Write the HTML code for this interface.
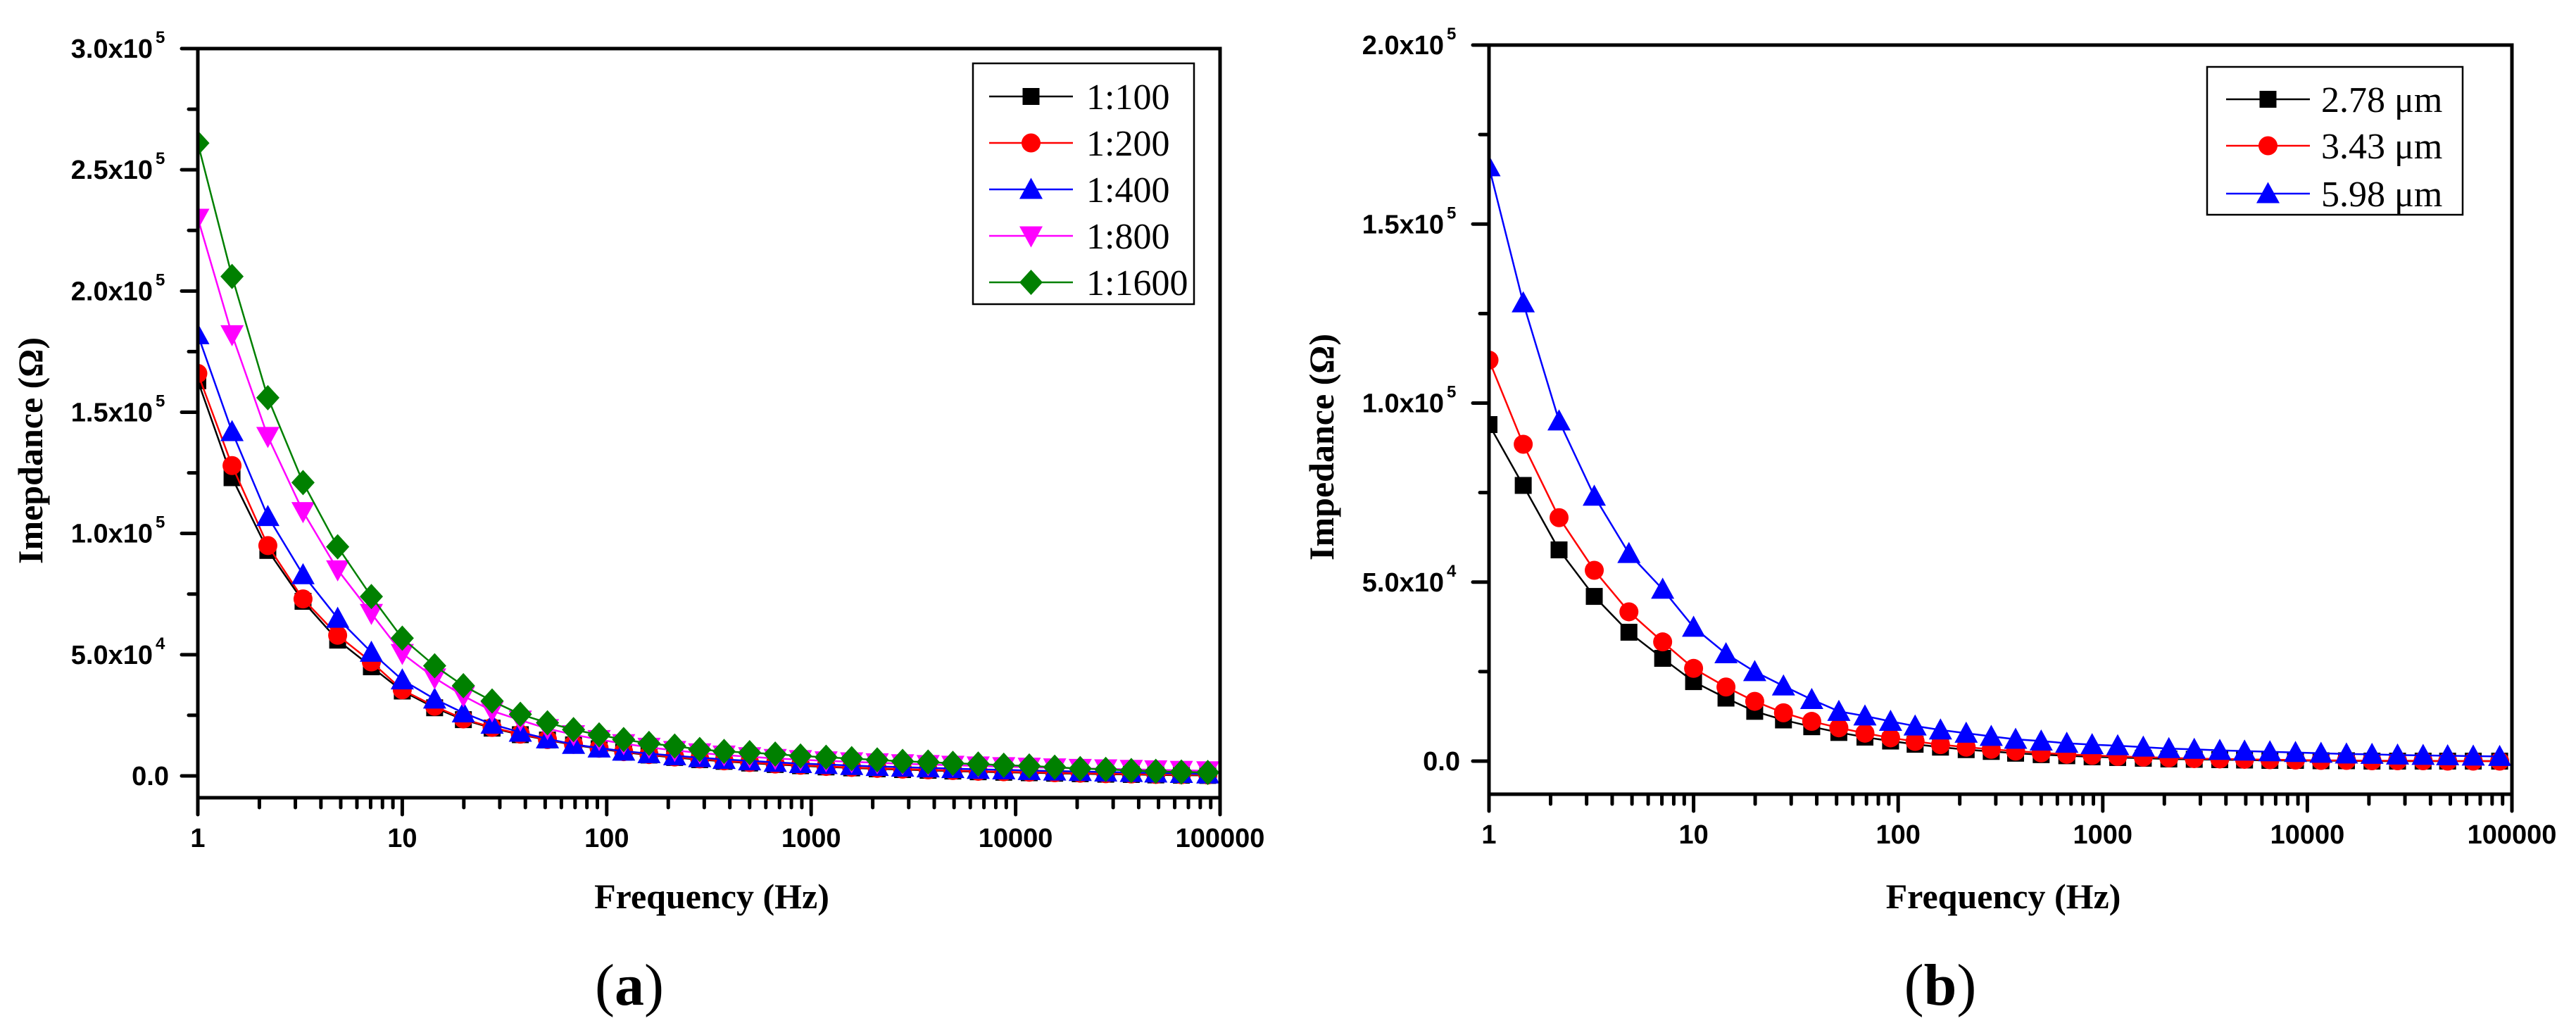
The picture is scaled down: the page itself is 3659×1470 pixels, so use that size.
<!DOCTYPE html>
<html><head><meta charset="utf-8"><style>
html,body{margin:0;padding:0;background:#fff;}
svg{display:block;}
</style></head><body>
<svg id="fig" width="3659" height="1470" viewBox="0 0 3659 1470" xmlns="http://www.w3.org/2000/svg">
<defs>
<clipPath id="clipA"><rect x="281" y="69" width="1452" height="1064"/></clipPath>
<clipPath id="clipB"><rect x="2115" y="64" width="1453" height="1064"/></clipPath>
</defs>
</svg>
<script>
// Shared frequency grid (Hz)
const freqs = [1,1.47,2.2,3.27,4.83,7.06,10,14.4,19.9,27.5,37.8,51.3,68.8,91.8,121,161,215,285,375,500,667,887,1183,1578,2104,2800,3732,4932,6561,8750,11660,15530,20700,27600,36800,48500,64700,87100];
const xTickLabels = ["1","10","100","1000","10000","100000"];
// Chart (a) series, units of 1e4 ohm
const aLabels = ["1:100","1:200","1:400","1:800","1:1600"];
const a100 = [16.3,12.3,9.3,7.2,5.6,4.5,3.5,2.81,2.32,1.97,1.7,1.48,1.28,1.12,0.98,0.86,0.76,0.67,0.6,0.53,0.47,0.42,0.37,0.33,0.29,0.26,0.23,0.2,0.17,0.15,0.13,0.11,0.09,0.07,0.06,0.04,0.03,0.02];
const a200 = [16.6,12.8,9.5,7.3,5.8,4.7,3.55,2.87,2.35,2.0,1.72,1.5,1.3,1.14,1.0,0.88,0.78,0.7,0.62,0.55,0.49,0.44,0.39,0.35,0.31,0.28,0.25,0.22,0.19,0.17,0.15,0.13,0.11,0.09,0.08,0.06,0.05,0.04];
const a400 = [18.2,14.2,10.7,8.3,6.5,5.1,3.96,3.17,2.6,2.13,1.8,1.53,1.3,1.15,1.02,0.92,0.83,0.75,0.68,0.62,0.56,0.51,0.47,0.43,0.39,0.36,0.33,0.3,0.27,0.25,0.22,0.2,0.18,0.16,0.14,0.12,0.1,0.08];
const a800 = [23.0,18.2,14.0,10.9,8.5,6.7,5.05,4.04,3.3,2.68,2.3,1.95,1.7,1.5,1.33,1.18,1.05,0.95,0.86,0.79,0.72,0.67,0.62,0.58,0.54,0.5,0.47,0.44,0.41,0.38,0.36,0.33,0.31,0.29,0.27,0.25,0.23,0.21];
const a1600 = [26.1,20.6,15.6,12.1,9.45,7.4,5.68,4.54,3.72,3.09,2.54,2.19,1.91,1.69,1.5,1.34,1.23,1.09,1.01,0.96,0.9,0.82,0.77,0.71,0.66,0.6,0.57,0.52,0.49,0.44,0.41,0.36,0.3,0.27,0.22,0.19,0.16,0.14];
const aYTicks = [0,5,10,15,20,25,30];
const aYTickLabels = [["0.0",""],["5.0x10","4"],["1.0x10","5"],["1.5x10","5"],["2.0x10","5"],["2.5x10","5"],["3.0x10","5"]];
// Chart (b) series, units of 1e4 ohm
const bLabels = ["2.78 \u03bcm","3.43 \u03bcm","5.98 \u03bcm"];
const b278 = [9.4,7.7,5.9,4.6,3.6,2.87,2.22,1.76,1.39,1.15,0.96,0.8,0.67,0.56,0.47,0.39,0.32,0.27,0.22,0.18,0.15,0.12,0.1,0.08,0.06,0.05,0.04,0.03,0.02,0.02,0.01,0.01,0,0,0,0,0,0];
const b343 = [11.2,8.85,6.8,5.33,4.17,3.33,2.59,2.07,1.67,1.35,1.11,0.93,0.78,0.65,0.55,0.46,0.39,0.33,0.28,0.23,0.19,0.16,0.13,0.11,0.09,0.07,0.06,0.05,0.04,0.03,0.02,0.02,0.01,0.01,0.01,0,0,0];
const b598 = [16.6,12.8,9.5,7.4,5.8,4.8,3.74,3.0,2.5,2.1,1.72,1.39,1.26,1.11,0.98,0.87,0.78,0.69,0.61,0.56,0.5,0.46,0.43,0.39,0.35,0.33,0.3,0.28,0.26,0.24,0.22,0.2,0.19,0.17,0.16,0.15,0.14,0.13];
const bYTicks = [0,5,10,15,20];
const bYTickLabels = [["0.0",""],["5.0x10","4"],["1.0x10","5"],["1.5x10","5"],["2.0x10","5"]];

const NS = "http://www.w3.org/2000/svg";
const svg = document.getElementById('fig');
function mk(tag, attrs, parent){
  const e = document.createElementNS(NS, tag);
  for (const k in attrs) e.setAttribute(k, attrs[k]);
  (parent||svg).appendChild(e);
  return e;
}
function marker(g, shape, cx, cy, color, s){
  let e;
  if (shape==='square') e = mk('rect',{x:cx-s*0.4,y:cy-s*0.4,width:s*0.8,height:s*0.8,fill:color},g);
  else if (shape==='circle') e = mk('circle',{cx:cx,cy:cy,r:s*0.45,fill:color},g);
  else if (shape==='up') e = mk('polygon',{points:`${cx},${cy-s*0.55} ${cx+s*0.55},${cy+s*0.45} ${cx-s*0.55},${cy+s*0.45}`,fill:color},g);
  else if (shape==='down') e = mk('polygon',{points:`${cx},${cy+s*0.55} ${cx+s*0.55},${cy-s*0.45} ${cx-s*0.55},${cy-s*0.45}`,fill:color},g);
  else e = mk('polygon',{points:`${cx},${cy-s*0.6} ${cx+s*0.55},${cy} ${cx},${cy+s*0.6} ${cx-s*0.55},${cy}`,fill:color},g);
  return e;
}
function chart(o){
  const g = mk('g',{});
  
  
  const xs = f => o.L + Math.log10(f)/5*(o.R-o.L);
  const ys = v => o.y0 - v/o.vmax*(o.y0-o.yTop);
  // series
  const sg = mk('g',{'clip-path':`url(#${o.clip})`},g);
  o.series.forEach((s,si)=>{
    const pl = mk('polyline',{points:s.vals.map((v,i)=>xs(freqs[i])+','+ys(v)).join(' '),fill:'none',stroke:s.color,'stroke-width':2.5},sg);
    
    
    s.vals.forEach((v,i)=>{
      const m = marker(sg, s.shape, xs(freqs[i]), ys(v), s.color, 30);
      
      
    });
  });
  // axes frame
  const fr = mk('rect',{x:o.L,y:o.T,width:o.R-o.L,height:o.B-o.T,fill:'none',stroke:'#000','stroke-width':5},g);
  
  
  // y ticks
  o.yTicks.forEach((t,i)=>{
    const y = ys(t);
    mk('line',{x1:o.L-23,x2:o.L,y1:y,y2:y,stroke:'#000','stroke-width':5,'stroke-linecap':'round'},g);
    if (i < o.yTicks.length-1){
      const ym = ys(t+2.5);
      mk('line',{x1:o.L-13,x2:o.L,y1:ym,y2:ym,stroke:'#000','stroke-width':5,'stroke-linecap':'round'},g);
    }
    const lab = o.yLabels[i];
    const tx = mk('text',{x: lab[1] ? o.L-64 : o.L-41, y:y+13,'text-anchor':'end','font-family':'Liberation Sans, Arial, sans-serif','font-weight':'bold','font-size':38},g);
    tx.textContent = lab[0];
    
    
    if (lab[1]){
      const sp = mk('text',{x:o.L-60,y:y-8,'font-family':'Liberation Sans, Arial, sans-serif','font-weight':'bold','font-size':24},g);
      sp.textContent = lab[1];
    }
  });
  // x ticks
  for (let d=0; d<=5; d++){
    const x = o.L + d/5*(o.R-o.L);
    mk('line',{x1:x,x2:x,y1:o.B,y2:o.B+24,stroke:'#000','stroke-width':5,'stroke-linecap':'round'},g);
    const tx = mk('text',{x:x,y:o.B+70,'text-anchor':'middle','font-family':'Liberation Sans, Arial, sans-serif','font-weight':'bold','font-size':38},g);
    tx.textContent = xTickLabels[d];
    
    
    if (d<5) for (let k=2;k<=9;k++){
      const xm = xs(Math.pow(10,d)*k);
      mk('line',{x1:xm,x2:xm,y1:o.B,y2:o.B+14,stroke:'#000','stroke-width':5,'stroke-linecap':'round'},g);
    }
  }
  // titles
  const xt = mk('text',{x:(o.L+o.R)/2+4,y:1290,'text-anchor':'middle','font-family':'Liberation Serif, Times New Roman, serif','font-weight':'bold','font-size':50},g);
  xt.textContent = 'Frequency (Hz)';
  
  
  const yt = mk('text',{x:0,y:0,'text-anchor':'middle','font-family':'Liberation Serif, Times New Roman, serif','font-weight':'bold','font-size':50,transform:`translate(${o.ytx},${o.yty}) rotate(-90)`},g);
  yt.textContent = o.ytitle;
  
  
  // caption
  const cap = mk('text',{x:o.capX,y:1427,'text-anchor':'middle','font-family':'Liberation Serif, Times New Roman, serif','font-size':84},g);
  cap.innerHTML = '(<tspan font-weight="bold">'+o.cap+'</tspan>)';
  
  
  // legend
  const lg = mk('g',{},g);
  
  
  mk('rect',{x:o.lg.x,y:o.lg.y,width:o.lg.w,height:o.lg.h,fill:'#fff',stroke:'#000','stroke-width':2.5},lg);
  o.series.forEach((s,i)=>{
    const y = o.lg.ys[i];
    const eg = mk('g',{},lg);
    
    
    mk('line',{x1:o.lg.l1,x2:o.lg.l2,y1:y,y2:y,stroke:s.color,'stroke-width':2.5},eg);
    marker(eg, s.shape, (o.lg.l1+o.lg.l2)/2, y, s.color, 30);
    const t = mk('text',{x:o.lg.tx,y:y+18,'font-family':'Liberation Serif, Times New Roman, serif','font-size':52},eg);
    t.textContent = s.label;
  });
}
chart({name:'chart-a', clip:'clipA', L:281,R:1733,T:69,B:1133,y0:1102,yTop:69,vmax:30,
  yTicks:aYTicks, yLabels:aYTickLabels, ytitle:'Imepdance (\u03a9)', ytx:60, yty:640, capX:894, cap:'a',
  series:[
    {key:'1-100',label:aLabels[0],vals:a100,color:'#000000',shape:'square'},
    {key:'1-200',label:aLabels[1],vals:a200,color:'#ff0000',shape:'circle'},
    {key:'1-400',label:aLabels[2],vals:a400,color:'#0000ff',shape:'up'},
    {key:'1-800',label:aLabels[3],vals:a800,color:'#ff00ff',shape:'down'},
    {key:'1-1600',label:aLabels[4],vals:a1600,color:'#008000',shape:'diamond'}],
  lg:{x:1382,y:90,w:314,h:342,ys:[137,203,269,335,401],l1:1405,l2:1524,tx:1543}});
chart({name:'chart-b', clip:'clipB', L:2115,R:3568,T:64,B:1128,y0:1081,yTop:64,vmax:20,
  yTicks:bYTicks, yLabels:bYTickLabels, ytitle:'Impedance (\u03a9)', ytx:1894, yty:635, capX:2756, cap:'b',
  series:[
    {key:'2-78um',label:bLabels[0],vals:b278,color:'#000000',shape:'square'},
    {key:'3-43um',label:bLabels[1],vals:b343,color:'#ff0000',shape:'circle'},
    {key:'5-98um',label:bLabels[2],vals:b598,color:'#0000ff',shape:'up'}],
  lg:{x:3135,y:95,w:363,h:210,ys:[141,207,275],l1:3162,l2:3281,tx:3297}});
</script>
</body></html>
